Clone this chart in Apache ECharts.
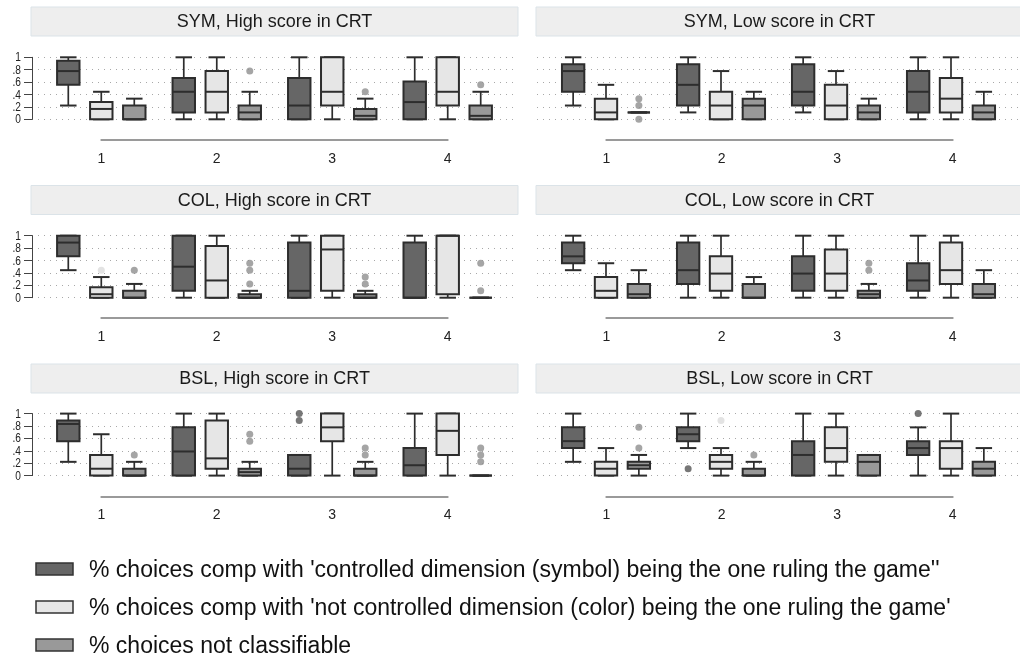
<!DOCTYPE html>
<html>
<head>
<meta charset="utf-8">
<title>Choice shares by round</title>
<script src="https://cdn.jsdelivr.net/npm/echarts@6/dist/echarts.min.js"></script>
<style>
  html, body { margin: 0; padding: 0; background: #ffffff; }
  #chart { width: 1020px; height: 665px; }
</style>
</head>
<body>
<div id="chart"></div>
<script>
// Round labels and y tick labels
const groups = ['1', '2', '3', '4'];
const yTickValues = [0, 0.2, 0.4, 0.6, 0.8, 1];
const yTickLabels = ['0', '.2', '.4', '.6', '.8', '1'];

const panelTitles = [
  'SYM, High score in CRT', 'SYM, Low score in CRT',
  'COL, High score in CRT', 'COL, Low score in CRT',
  'BSL, High score in CRT', 'BSL, Low score in CRT'
];

const seriesNames = [
  "% choices comp with 'controlled dimension (symbol) being the one ruling the game''",
  "% choices comp with 'not controlled dimension (color) being the one ruling the game'",
  '% choices not classifiable'
];

// Box statistics per round: [lower adjacent, q1, median, q3, upper adjacent]
const symHighCtrl = [[0.222, 0.556, 0.778, 0.944, 1], [0, 0.111, 0.444, 0.667, 1], [0, 0, 0.222, 0.667, 1], [0, 0, 0.278, 0.611, 1]];
const symHighColor = [[0, 0, 0.167, 0.278, 0.444], [0, 0.111, 0.444, 0.778, 1], [0, 0.222, 0.444, 1, 1], [0, 0.222, 0.444, 1, 1]];
const symHighNone = [[0, 0, 0, 0.222, 0.333], [0, 0, 0.111, 0.222, 0.444], [0, 0, 0.056, 0.167, 0.333], [0, 0, 0.056, 0.222, 0.444]];

const symLowCtrl = [[0.222, 0.444, 0.778, 0.889, 1], [0.111, 0.222, 0.556, 0.889, 1], [0.111, 0.222, 0.444, 0.889, 1], [0, 0.111, 0.444, 0.778, 1]];
const symLowColor = [[0, 0, 0.111, 0.333, 0.556], [0, 0, 0.222, 0.444, 0.778], [0, 0, 0.222, 0.556, 0.778], [0, 0.111, 0.333, 0.667, 1]];
const symLowNone = [[0.111, 0.111, 0.111, 0.111, 0.111], [0, 0, 0.222, 0.333, 0.444], [0, 0, 0.111, 0.222, 0.333], [0, 0, 0.111, 0.222, 0.444]];

const colHighCtrl = [[0.444, 0.667, 0.889, 1, 1], [0, 0.111, 0.5, 1, 1], [0, 0, 0.111, 0.889, 1], [0, 0, 0, 0.889, 1]];
const colHighColor = [[0, 0, 0.056, 0.167, 0.333], [0, 0, 0.278, 0.833, 1], [0, 0.111, 0.778, 1, 1], [0, 0.056, 1, 1, 1]];
const colHighNone = [[0, 0, 0, 0.111, 0.222], [0, 0, 0, 0.056, 0.111], [0, 0, 0, 0.056, 0.111], [0, 0, 0, 0, 0]];

const colLowCtrl = [[0.444, 0.556, 0.667, 0.889, 1], [0, 0.222, 0.444, 0.889, 1], [0, 0.111, 0.389, 0.667, 1], [0, 0.111, 0.278, 0.556, 1]];
const colLowColor = [[0, 0, 0.111, 0.333, 0.556], [0, 0.111, 0.389, 0.667, 1], [0, 0.111, 0.389, 0.778, 1], [0, 0.222, 0.444, 0.889, 1]];
const colLowNone = [[0, 0, 0.056, 0.222, 0.444], [0, 0, 0, 0.222, 0.333], [0, 0, 0.056, 0.111, 0.222], [0, 0, 0.056, 0.222, 0.444]];

const bslHighCtrl = [[0.222, 0.556, 0.833, 0.889, 1], [0, 0, 0.389, 0.778, 1], [0, 0, 0.111, 0.333, 0.333], [0, 0, 0.167, 0.444, 1]];
const bslHighColor = [[0, 0, 0.111, 0.333, 0.667], [0, 0.111, 0.278, 0.889, 1], [0, 0.556, 0.778, 1, 1], [0, 0.333, 0.722, 1, 1]];
const bslHighNone = [[0, 0, 0, 0.111, 0.222], [0, 0, 0.056, 0.111, 0.222], [0, 0, 0, 0.111, 0.222], [0, 0, 0, 0, 0]];

const bslLowCtrl = [[0.222, 0.444, 0.556, 0.778, 1], [0.444, 0.556, 0.667, 0.778, 1], [0, 0, 0.333, 0.556, 1], [0, 0.333, 0.444, 0.556, 0.778]];
const bslLowColor = [[0, 0, 0.111, 0.222, 0.444], [0, 0.111, 0.222, 0.333, 0.444], [0, 0.222, 0.444, 0.778, 1], [0, 0.111, 0.444, 0.556, 1]];
const bslLowNone = [[0, 0.111, 0.167, 0.222, 0.333], [0, 0, 0, 0.111, 0.222], [0, 0, 0.222, 0.333, 0.333], [0, 0, 0.111, 0.222, 0.444]];

// Outside values: [round index, value]
const symHighNoneOut = [[1, 0.778], [2, 0.444], [3, 0.556]];
const symLowNoneOut = [[0, 0.333], [0, 0.222], [0, 0]];
const colHighColorOut = [[0, 0.444]];
const colHighNoneOut = [[0, 0.444], [1, 0.556], [1, 0.444], [1, 0.222], [2, 0.333], [2, 0.222], [3, 0.556], [3, 0.111]];
const colLowNoneOut = [[2, 0.556], [2, 0.444]];
const bslHighCtrlOut = [[2, 1], [2, 0.889]];
const bslHighNoneOut = [[0, 0.333], [1, 0.667], [1, 0.556], [2, 0.444], [2, 0.333], [3, 0.444], [3, 0.333], [3, 0.222]];
const bslLowCtrlOut = [[1, 0.111], [3, 1]];
const bslLowColorOut = [[1, 0.889]];
const bslLowNoneOut = [[0, 0.778], [0, 0.444], [1, 0.333]];

const panels = [
  { boxes: [symHighCtrl, symHighColor, symHighNone], outs: [[], [], symHighNoneOut] },
  { boxes: [symLowCtrl, symLowColor, symLowNone], outs: [[], [], symLowNoneOut] },
  { boxes: [colHighCtrl, colHighColor, colHighNone], outs: [[], colHighColorOut, colHighNoneOut] },
  { boxes: [colLowCtrl, colLowColor, colLowNone], outs: [[], [], colLowNoneOut] },
  { boxes: [bslHighCtrl, bslHighColor, bslHighNone], outs: [bslHighCtrlOut, [], bslHighNoneOut] },
  { boxes: [bslLowCtrl, bslLowColor, bslLowNone], outs: [bslLowCtrlOut, bslLowColorOut, bslLowNoneOut] }
];

// Appearance
const fills = ['#666666', '#e6e6e6', '#999999'];
const dotColors = ['#555555', '#dcdcdc', '#8e8e8e'];
const EDGE = '#2d2d2d';
const BASE_FONT = "'Liberation Sans', Arial, sans-serif";

// Layout
const colLeft = [32, 537];
const plotWidth = 485;
const rowTop = [57.3, 235.7, 413.6];
const plotHeight = 62;
const axisLineY = [140, 318, 496.5];
const headerTop = [7, 185.5, 364];
const headerHeight = 29;
const X_MIN = -1.1, X_MAX = 13.6;
const GROUP_STEP = 3.5;      // distance between rounds, in box slots
const BOX_W = 0.68, CAP_W = 0.5;
const pxPerUnit = plotWidth / (X_MAX - X_MIN);

function slot(g, b) { return g * GROUP_STEP + b; }

function renderBox(params, api) {
  const u = api.value(0);
  const p = (v) => api.coord([u, v]);
  const x = p(api.value(3))[0];
  const yLo = p(api.value(1))[1];
  const yQ1 = p(api.value(2))[1];
  const yMed = p(api.value(3))[1];
  const yQ3 = p(api.value(4))[1];
  const yHi = p(api.value(5))[1];
  const bw = api.size([BOX_W, 0])[0];
  const cw = api.size([CAP_W, 0])[0];
  const wStyle = { stroke: EDGE, lineWidth: 1.7 };
  const cStyle = { stroke: EDGE, lineWidth: 2 };
  return {
    type: 'group',
    children: [
      { type: 'line', shape: { x1: x, y1: yQ3, x2: x, y2: yHi }, style: wStyle },
      { type: 'line', shape: { x1: x, y1: yQ1, x2: x, y2: yLo }, style: wStyle },
      { type: 'line', shape: { x1: x - cw / 2, y1: yHi, x2: x + cw / 2, y2: yHi }, style: cStyle },
      { type: 'line', shape: { x1: x - cw / 2, y1: yLo, x2: x + cw / 2, y2: yLo }, style: cStyle },
      { type: 'rect', shape: { x: x - bw / 2, y: yQ3, width: bw, height: yQ1 - yQ3 },
        style: { fill: api.visual('color'), stroke: EDGE, lineWidth: 2 } },
      { type: 'line', shape: { x1: x - bw / 2, y1: yMed, x2: x + bw / 2, y2: yMed }, style: cStyle }
    ]
  };
}

const grid = [], xAxis = [], yAxis = [], series = [], graphic = [];

panels.forEach((panel, i) => {
  const r = Math.floor(i / 2), c = i % 2;
  // plot area
  grid.push({ left: colLeft[c], top: rowTop[r], width: plotWidth, height: plotHeight });
  xAxis.push({ gridIndex: i, type: 'value', min: X_MIN, max: X_MAX, show: false });
  yAxis.push({
    gridIndex: i, type: 'value', min: 0, max: 1, interval: 0.2, position: 'left',
    axisLine: { show: c === 0, onZero: false, lineStyle: { color: '#444', width: 1 } },
    axisTick: { show: c === 0, length: 8, lineStyle: { color: '#444', width: 1 } },
    axisLabel: { show: false },
    splitLine: { show: true, lineStyle: { color: '#a8a8a8', width: 1, type: [1, 5] } }
  });

  panel.boxes.forEach((boxes, b) => {
    series.push({
      type: 'custom', name: seriesNames[b], coordinateSystem: 'cartesian2d',
      xAxisIndex: i, yAxisIndex: i,
      itemStyle: { color: fills[b] },
      encode: { x: 0, y: [1, 2, 3, 4, 5] },
      renderItem: renderBox,
      data: boxes.map((s, g) => [slot(g, b)].concat(s))
    });
    if (panel.outs[b].length) {
      series.push({
        type: 'scatter', name: seriesNames[b], xAxisIndex: i, yAxisIndex: i,
        symbol: 'circle', symbolSize: 7,
        itemStyle: { color: dotColors[b] },
        data: panel.outs[b].map(([g, v]) => [slot(g, b), v])
      });
    }
  });

  // panel header
  graphic.push({
    type: 'group', x: colLeft[c] - 1, y: headerTop[r],
    children: [
      { type: 'rect', shape: { x: 0, y: 0, width: plotWidth + 2, height: headerHeight },
        style: { fill: '#eeeeee', stroke: '#dbe3e8', lineWidth: 1 } },
      { type: 'text', x: (plotWidth + 2) / 2, y: headerHeight / 2 + 1,
        style: { text: panelTitles[i], fill: '#1a1a1a', font: '18px ' + BASE_FONT,
                 align: 'center', verticalAlign: 'middle' } }
    ]
  });
});

// round axis under each panel, spanning the first to last round
panels.forEach((panel, i) => {
  const r = Math.floor(i / 2), c = i % 2;
  const gi = 6 + i;
  grid.push({
    left: colLeft[c] + (1 - X_MIN) * pxPerUnit,
    width: (slot(3, 1) - slot(0, 1)) * pxPerUnit,
    top: axisLineY[r] - 10, height: 10
  });
  xAxis.push({
    gridIndex: gi, type: 'category', data: groups, boundaryGap: false, position: 'bottom',
    axisLine: { lineStyle: { color: '#9a9a9a', width: 2 } },
    axisTick: { show: false },
    axisLabel: { margin: 12, color: '#222', fontSize: 14, fontFamily: BASE_FONT },
    splitLine: { show: false }
  });
  yAxis.push({ gridIndex: gi, type: 'value', show: false });
});

// key
const keyRows = [571, 609, 647];
seriesNames.forEach((name, b) => {
  graphic.push({
    type: 'group', x: 36, y: keyRows[b],
    children: [
      { type: 'rect', shape: { x: 0, y: -8, width: 37, height: 12 },
        style: { fill: fills[b], stroke: '#333', lineWidth: 1.5 } },
      { type: 'text', x: 53, y: 0,
        style: { text: name, fill: '#111', font: '23px ' + BASE_FONT, verticalAlign: 'middle' } }
    ]
  });
});

const chart = echarts.init(document.getElementById('chart'), null, { renderer: 'canvas' });
chart.setOption({
  animation: false,
  backgroundColor: '#ffffff',
  grid, xAxis, yAxis, series, graphic
});

// Tightly packed, condensed y tick labels for the left column, placed through the y scale
const tickText = [];
panels.forEach((panel, i) => {
  if (i % 2 !== 0) return;
  yTickValues.forEach((v, k) => {
    const y = chart.convertToPixel({ gridIndex: i }, [X_MIN, v])[1];
    tickText.push({
      type: 'text', x: colLeft[0] - 11, y: y + 0.5, scaleX: 0.78,
      style: { text: yTickLabels[k], fill: '#222', font: '13px ' + BASE_FONT,
               align: 'right', verticalAlign: 'middle' }
    });
  });
});
chart.setOption({ graphic: graphic.concat(tickText) });
</script>
</body>
</html>
